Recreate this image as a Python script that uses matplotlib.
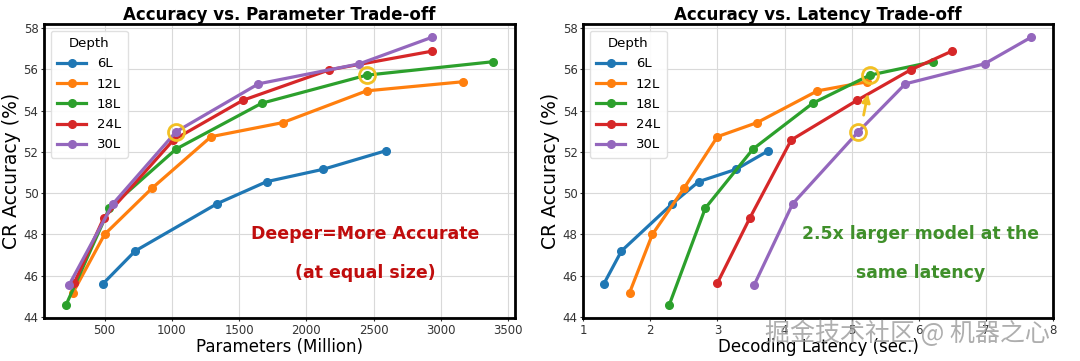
import matplotlib.pyplot as plt

depths = ["6L", "12L", "18L", "24L", "30L"]
colors = ["#1f77b4", "#ff7f0e", "#2ca02c", "#d62728", "#9467bd"]

# parameters (million) per depth
params = [
    [490, 728, 1339, 1705, 2126, 2592],
    [265, 500, 851, 1292, 1824, 2448, 3161],
    [213, 537, 1032, 1668, 2448, 3384],
    [275, 493, 1012, 1527, 2171, 2931],
    [238, 562, 1032, 1644, 2394, 2931],
]
# decoding latency (sec.) per depth
latency = [
    [1.31, 1.57, 2.33, 2.72, 3.28, 3.76],
    [1.69, 2.03, 2.50, 3.00, 3.59, 4.49, 5.23],
    [2.28, 2.82, 3.53, 4.42, 5.27, 6.21],
    [3.00, 3.48, 4.10, 5.08, 5.88, 6.49],
    [3.55, 4.12, 5.10, 5.80, 6.98, 7.67],
]
# CR accuracy (%) per depth
accuracy = [
    [45.62, 47.20, 49.50, 50.56, 51.16, 52.06],
    [45.17, 48.00, 50.23, 52.74, 53.42, 54.96, 55.40],
    [44.57, 49.28, 52.14, 54.36, 55.72, 56.37],
    [45.65, 48.78, 52.58, 54.50, 55.98, 56.88],
    [45.57, 49.48, 52.98, 55.30, 56.27, 57.55],
]

# highlighted points (yellow circles)
hl_params = [1032, 2448]
hl_latency = [5.10, 5.27]
hl_acc = [52.98, 55.72]

fig = plt.figure(figsize=(10.8, 3.61), dpi=100)
ax1 = fig.add_axes([0.0407, 0.119, 0.4363, 0.8145])
ax2 = fig.add_axes([0.540, 0.119, 0.435, 0.8145])


def style_axes(ax, title, xlabel):
    ax.set_title(title, fontsize=12, fontweight="bold", pad=2)
    ax.set_xlabel(xlabel, fontsize=12, labelpad=1)
    ax.set_ylabel("CR Accuracy (%)", fontsize=13.5, labelpad=2)
    ax.grid(True, color="#d9d9d9", linewidth=0.8)
    ax.set_axisbelow(True)
    ax.tick_params(labelsize=8.5, length=2, pad=2, colors="#333333")
    for s in ax.spines.values():
        s.set_linewidth(2)
        s.set_color("black")
    ax.set_yticks([44, 46, 48, 50, 52, 54, 56, 58])
    ax.set_ylim(43.95, 58.2)
    leg = ax.legend(title="Depth", loc="upper left", fontsize=9.5,
                    title_fontsize=9.5, handlelength=2.2, borderpad=0.5,
                    labelspacing=0.55, framealpha=0.9)
    leg.get_frame().set_edgecolor("#dddddd")


for i in range(len(depths)):
    ax1.plot(params[i], accuracy[i], "-o", color=colors[i], lw=2.3,
             markersize=5.5, label=depths[i])
    ax2.plot(latency[i], accuracy[i], "-o", color=colors[i], lw=2.3,
             markersize=5.5, label=depths[i])

ax1.plot(hl_params, hl_acc, "o", mfc="none", mec="#f2c024", mew=2,
         markersize=11.5, zorder=5)
ax2.plot(hl_latency, hl_acc, "o", mfc="none", mec="#f2c024", mew=2,
         markersize=11.5, zorder=5)
ax2.annotate("", xy=(5.25, 54.95), xytext=(5.17, 53.65),
             arrowprops=dict(arrowstyle="-|>", color="#f2c024", lw=2,
                             mutation_scale=12))

ax1.set_xlim(50, 3552)
ax1.set_xticks([500, 1000, 1500, 2000, 2500, 3000, 3500])
ax2.set_xlim(1, 8)
ax2.set_xticks([1, 2, 3, 4, 5, 6, 7, 8])

style_axes(ax1, "Accuracy vs. Parameter Trade-off", "Parameters (Million)")
style_axes(ax2, "Accuracy vs. Latency Trade-off", "Decoding Latency (sec.)")

ax1.text(2440, 48.0, "Deeper=More Accurate", color="#c00d0d", fontsize=12.5,
         fontweight="bold", ha="center", va="center")
ax1.text(2440, 46.15, "(at equal size)", color="#c00d0d", fontsize=12.5,
         fontweight="bold", ha="center", va="center")
ax2.text(6.03, 48.0, "2.5x larger model at the", color="#3f8f2a",
         fontsize=12.4, fontweight="bold", ha="center", va="center")
ax2.text(6.03, 46.15, "same latency", color="#3f8f2a", fontsize=12.4,
         fontweight="bold", ha="center", va="center")

# watermark
fig.text(0.972, 0.075, "掘金技术社区 @ 机器之心", fontsize=18, color="#9a9a9a",
         alpha=0.8, ha="right", va="center",
         family=["Noto Sans CJK SC", "DejaVu Sans"])

fig.savefig("out.png", dpi=100)
